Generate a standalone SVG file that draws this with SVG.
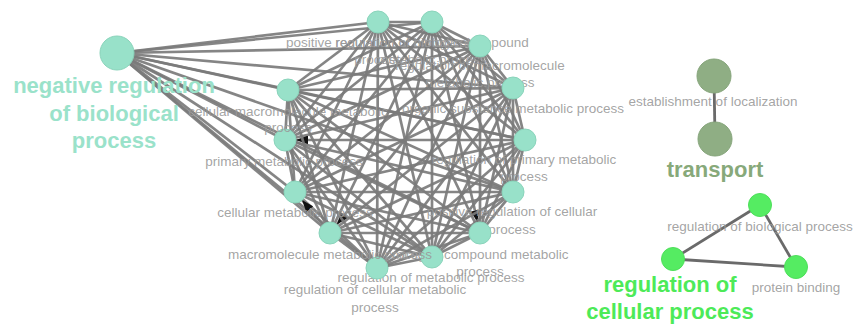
<svg xmlns="http://www.w3.org/2000/svg" width="854" height="327" viewBox="0 0 854 327">
<style>
.e{stroke:#7b7b7b;stroke-width:2.7;fill:none;stroke-opacity:0.92}
.ed{stroke:#6a6a6a;stroke-width:2.8;fill:none}
.tn{fill:#98e1c9;stroke:#8ad4bb;stroke-width:1}
.on{fill:#8fae84;stroke:#86a57b;stroke-width:1}
.gn{fill:#55ec62;stroke:#4ddf5a;stroke-width:1}
.l{font-family:"Liberation Sans",Arial,sans-serif;font-size:13.5px;fill:#9a9a9a;fill-opacity:0.9;text-anchor:middle}
.b{font-family:"Liberation Sans",Arial,sans-serif;font-size:22px;font-weight:bold;text-anchor:middle}
</style>
<defs>
<marker id="arr" markerUnits="userSpaceOnUse" markerWidth="12" markerHeight="9" refX="12" refY="4.5" orient="auto">
<path d="M0 0L12 4.5L0 9z" fill="#111"/>
</marker>
</defs>
<rect width="854" height="327" fill="#fff"/>
<g id="connectors">
<path class="e" d="M117 53L378 22"/><path class="e" d="M117 53L432 22"/><path class="e" d="M117 53L480 46"/><path class="e" d="M117 53L513 88"/><path class="e" d="M117 53L525 140"/><path class="e" d="M117 53L513 192"/><path class="e" d="M117 53L480 233"/><path class="e" d="M117 53L432 257"/><path class="e" d="M117 53L377 268"/><path class="e" d="M117 53L330 233"/><path class="e" d="M117 53L295 192"/><path class="e" d="M117 53L285 140"/><path class="e" d="M117 53L288 90"/>
<path class="e" d="M378 22L432 22"/><path class="e" d="M378 22L480 46"/><path class="e" d="M378 22L513 88"/><path class="e" d="M378 22L525 140"/><path class="e" d="M378 22L513 192"/><path class="e" d="M378 22L480 233"/><path class="e" d="M378 22L432 257"/><path class="e" d="M378 22L377 268"/><path class="e" d="M378 22L330 233"/><path class="e" d="M378 22L295 192"/><path class="e" d="M378 22L285 140"/><path class="e" d="M378 22L288 90"/>
<path class="e" d="M432 22L480 46"/><path class="e" d="M432 22L513 88"/><path class="e" d="M432 22L525 140"/><path class="e" d="M432 22L513 192"/><path class="e" d="M432 22L477.6 222.3" marker-end="url(#arr)"/><path class="e" d="M432 22L432 257"/><path class="e" d="M432 22L377 268"/><path class="e" d="M432 22L330 233"/><path class="e" d="M432 22L295 192"/><path class="e" d="M432 22L285 140"/><path class="e" d="M432 22L288 90"/>
<path class="e" d="M480 46L513 88"/><path class="e" d="M480 46L525 140"/><path class="e" d="M480 46L513 192"/><path class="e" d="M480 46L480 233"/><path class="e" d="M480 46L432 257"/><path class="e" d="M480 46L377 268"/><path class="e" d="M480 46L336.9 224.4" marker-end="url(#arr)"/><path class="e" d="M480 46L295 192"/><path class="e" d="M480 46L285 140"/><path class="e" d="M480 46L288 90"/>
<path class="e" d="M513 88L525 140"/><path class="e" d="M513 88L513 192"/><path class="e" d="M513 88L480 233"/><path class="e" d="M513 88L432 257"/><path class="e" d="M513 88L377 268"/><path class="e" d="M513 88L330 233"/><path class="e" d="M513 88L295 192"/><path class="e" d="M513 88L285 140"/><path class="e" d="M513 88L288 90"/>
<path class="e" d="M525 140L513 192"/><path class="e" d="M525 140L480 233"/><path class="e" d="M525 140L432 257"/><path class="e" d="M525 140L377 268"/><path class="e" d="M525 140L330 233"/><path class="e" d="M525 140L295 192"/><path class="e" d="M525 140L296 140" marker-end="url(#arr)"/><path class="e" d="M525 140L288 90"/>
<path class="e" d="M513 192L480 233"/><path class="e" d="M513 192L432 257"/><path class="e" d="M513 192L377 268"/><path class="e" d="M513 192L330 233"/><path class="e" d="M513 192L295 192"/><path class="e" d="M513 192L285 140"/><path class="e" d="M513 192L288 90"/>
<path class="e" d="M480 233L432 257"/><path class="e" d="M480 233L377 268"/><path class="e" d="M480 233L330 233"/><path class="e" d="M480 233L295 192"/><path class="e" d="M480 233L285 140"/><path class="e" d="M480 233L288 90"/>
<path class="e" d="M432 257L377 268"/><path class="e" d="M432 257L330 233"/><path class="e" d="M432 257L295 192"/><path class="e" d="M432 257L285 140"/><path class="e" d="M432 257L288 90"/>
<path class="e" d="M377 268L330 233"/><path class="e" d="M377 268L295 192"/><path class="e" d="M377 268L285 140"/><path class="e" d="M377 268L288 90"/>
<path class="e" d="M330 233L302 200" marker-end="url(#arr)"/><path class="e" d="M330 233L285 140"/><path class="e" d="M330 233L288 90"/>
<path class="e" d="M295 192L285 140"/><path class="e" d="M295 192L288 90"/>
<path class="e" d="M285 140L288 90"/>
<path class="ed" d="M714 76L715 139"/>
<path class="ed" d="M760 205L673 259"/><path class="ed" d="M760 205L796 267"/><path class="ed" d="M673 259L796 267"/>
</g>
<g id="n0"><circle class="tn" cx="117" cy="53" r="17"/><text class="b" fill="#9ae2ca" x="114" y="93">negative regulation</text><text class="b" fill="#9ae2ca" x="114" y="121">of biological</text><text class="b" fill="#9ae2ca" x="114" y="148">process</text></g>
<g id="n1"><circle class="tn" cx="378" cy="22" r="11"/><text class="l" x="378" y="47">positive regulation of biological</text><text class="l" x="378" y="64">process</text></g>
<g id="n2"><circle class="tn" cx="432" cy="22" r="11"/><text class="l" x="432" y="47">regulation of nitrogen compound</text><text class="l" x="432" y="64">metabolic process</text></g>
<g id="n3"><circle class="tn" cx="480" cy="46" r="11"/><text class="l" x="480" y="70">regulation of macromolecule</text><text class="l" x="480" y="87">metabolic process</text></g>
<g id="n4"><circle class="tn" cx="513" cy="88" r="11"/><text class="l" x="513" y="113">organic substance metabolic process</text></g>
<g id="n5"><circle class="tn" cx="525" cy="140" r="11"/><text class="l" x="524" y="164">regulation of primary metabolic</text><text class="l" x="524" y="181">process</text></g>
<g id="n6"><circle class="tn" cx="513" cy="192" r="11"/><text class="l" x="512" y="216">positive regulation of cellular</text><text class="l" x="512" y="234">process</text></g>
<g id="n7"><circle class="tn" cx="480" cy="233" r="11"/><text class="l" x="480" y="259">nitrogen compound metabolic</text><text class="l" x="480" y="276">process</text></g>
<g id="n8"><circle class="tn" cx="432" cy="257" r="11"/><text class="l" x="431" y="282">regulation of metabolic process</text></g>
<g id="n9"><circle class="tn" cx="377" cy="268" r="11"/><text class="l" x="375" y="294">regulation of cellular metabolic</text><text class="l" x="375" y="312">process</text></g>
<g id="n10"><circle class="tn" cx="330" cy="233" r="11"/><text class="l" x="330" y="259">macromolecule metabolic process</text></g>
<g id="n11"><circle class="tn" cx="295" cy="192" r="11"/><text class="l" x="295" y="217">cellular metabolic process</text></g>
<g id="n12"><circle class="tn" cx="285" cy="140" r="11"/><text class="l" x="284" y="166">primary metabolic process</text></g>
<g id="n13"><circle class="tn" cx="288" cy="90" r="11"/><text class="l" x="288" y="116">cellular macromolecule metabolic</text><text class="l" x="288" y="132">process</text></g>
<g id="t1"><circle class="on" cx="714" cy="76" r="17"/><text class="l" x="713" y="106">establishment of localization</text></g>
<g id="t2"><circle class="on" cx="715" cy="139" r="17"/><text class="b" fill="#87a97a" x="715" y="177">transport</text></g>
<g id="g1"><circle class="gn" cx="760" cy="205" r="11.5"/><text class="l" x="760" y="231">regulation of biological process</text></g>
<g id="g2"><circle class="gn" cx="673" cy="259" r="11.5"/><text class="b" fill="#4dea58" x="670" y="292">regulation of</text><text class="b" fill="#4dea58" x="670" y="319">cellular process</text></g>
<g id="g3"><circle class="gn" cx="796" cy="267" r="11.5"/><text class="l" x="796" y="292">protein binding</text></g>
</svg>
